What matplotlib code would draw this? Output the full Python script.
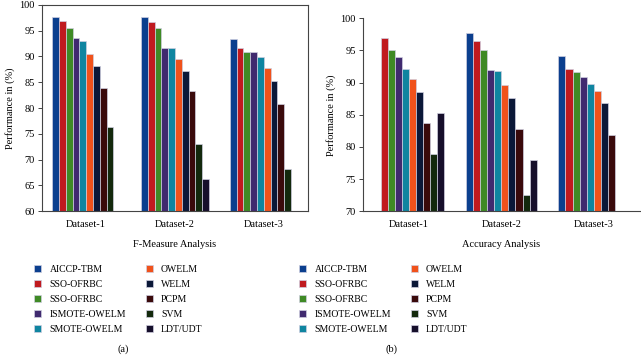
import numpy as np
import matplotlib
matplotlib.use("Agg")
import matplotlib.pyplot as plt

plt.rcParams['font.family'] = ['Liberation Serif', 'DejaVu Serif']

datasets = ["Dataset-1", "Dataset-2", "Dataset-3"]
methods = ["AICCP-TBM", "SSO-OFRBC", "SSO-OFRBC", "ISMOTE-OWELM", "SMOTE-OWELM",
           "OWELM", "WELM", "PCPM", "SVM", "LDT/UDT"]
colors = ["#0b3f8e", "#c01a1f", "#3f8a25", "#402a6f", "#0f85a0",
          "#f0521b", "#0b1838", "#3a0a0b", "#13290d", "#160f2b"]

nan = np.nan
# F-Measure (rows: methods, cols: datasets)
fmeasure = {
    "AICCP-TBM":    [97.6, 97.6, 93.3],
    "SSO-OFRBC-r":  [96.8, 96.6, 91.7],
    "SSO-OFRBC-g":  [95.4, 95.5, 90.9],
    "ISMOTE-OWELM": [93.5, 91.7, 90.8],
    "SMOTE-OWELM":  [93.0, 91.7, 89.9],
    "OWELM":        [90.4, 89.4, 87.8],
    "WELM":         [88.2, 87.2, 85.2],
    "PCPM":         [83.8, 83.2, 80.8],
    "SVM":          [76.3, 73.0, 68.1],
    "LDT/UDT":      [nan, 66.2, nan],
}
accuracy = {
    "AICCP-TBM":    [nan, 97.7, 94.2],
    "SSO-OFRBC-r":  [96.9, 96.5, 92.1],
    "SSO-OFRBC-g":  [95.1, 95.1, 91.7],
    "ISMOTE-OWELM": [94.0, 92.0, 90.8],
    "SMOTE-OWELM":  [92.1, 91.8, 89.8],
    "OWELM":        [90.5, 89.7, 88.7],
    "WELM":         [88.5, 87.6, 86.9],
    "PCPM":         [83.7, 82.8, 81.8],
    "SVM":          [78.9, 72.5, nan],
    "LDT/UDT":      [85.3, 78.0, nan],
}

W, H = 641, 356
fig = plt.figure(figsize=(W / 100, H / 100), dpi=100)

def px_axes(left, right, top, bottom):
    return fig.add_axes([left / W, 1 - bottom / H, (right - left) / W, (bottom - top) / H])

FS = 7.5
LFS = 7.0

def draw(ax, data, ylim, xlabel, full_box):
    x = np.arange(len(datasets))
    n = len(methods)
    w = 0.765 / n
    handles = []
    for j, (key, vals) in enumerate(data.items()):
        b = ax.bar(x + (j - (n - 1) / 2) * w, vals, width=w, color=colors[j],
                   edgecolor="#cfcfe0", linewidth=0.5, label=methods[j], zorder=2)
        handles.append(b)
    ax.set_xlim(-0.5, len(datasets) - 0.5)
    ax.set_ylim(*ylim)
    ax.set_yticks(np.arange(ylim[0], ylim[1] + 1, 5))
    ax.set_xticks(x)
    ax.set_xticklabels(datasets, fontsize=FS)
    ax.tick_params(axis='x', length=0, pad=6)
    ax.tick_params(axis='y', labelsize=FS, length=3, width=0.7, color="#444444", pad=2)
    ax.set_ylabel("Performance in (%)", fontsize=FS, labelpad=3)
    ax.set_xlabel(xlabel, fontsize=FS, labelpad=8)
    for s in ax.spines.values():
        s.set_color("#444444")
        s.set_linewidth(0.8)
    if not full_box:
        ax.spines['top'].set_visible(False)
        ax.spines['right'].set_visible(False)
    return handles

ax1 = px_axes(41.7, 308.3, 4.7, 211.3)
h1 = draw(ax1, fmeasure, (60, 100), "F-Measure Analysis", True)
ax2 = px_axes(362.7, 640, 18.3, 211.3)
h2 = draw(ax2, accuracy, (70, 100), "Accuracy Analysis", False)

def legend(handles, x0, y0):
    leg = fig.legend(handles, methods, ncol=2, loc='upper left',
                     bbox_to_anchor=(x0 / W, 1 - y0 / H), frameon=False,
                     fontsize=LFS, handlelength=0.75, handleheight=0.75,
                     handletextpad=0.85, columnspacing=2.0, labelspacing=0.62,
                     borderpad=0, borderaxespad=0)
    return leg

legend(h1, 34, 264.5)
legend(h2, 299, 264.5)

fig.text(123 / W, 1 - 349 / H, "(a)", ha='center', va='center', fontsize=FS)
fig.text(391 / W, 1 - 349 / H, "(b)", ha='center', va='center', fontsize=FS)

fig.savefig("out.png", dpi=100)
